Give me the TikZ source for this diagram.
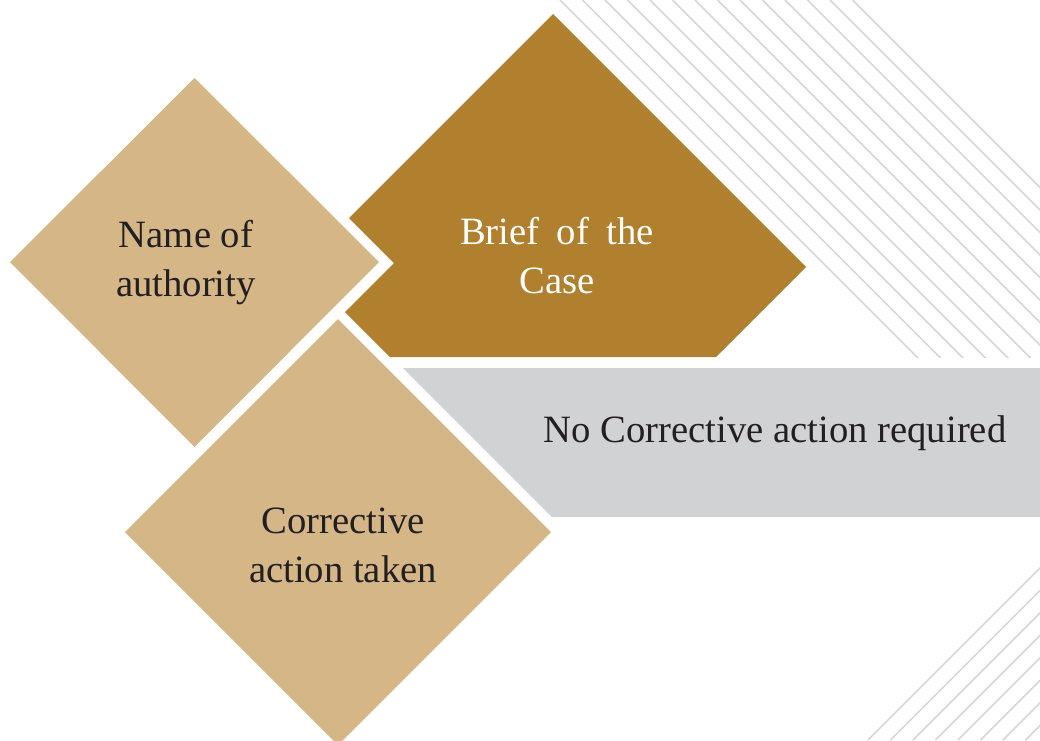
\documentclass[tikz,border=0pt]{standalone}
\usepackage{fontspec}
\setmainfont{Liberation Serif}
\definecolor{mytan}{HTML}{D4B687}
\definecolor{mybrown}{HTML}{B1802F}
\definecolor{mygray}{HTML}{D1D2D4}
\definecolor{hatchgray}{HTML}{D6D6D6}
\definecolor{ink}{HTML}{231F20}
\begin{document}
\begin{tikzpicture}[x=0.75pt,y=-0.75pt,
  lbl/.style={align=center, font=\fontsize{29}{36.75}\selectfont, text=ink, inner sep=0pt},
  hatchline/.style={draw=hatchgray, line width=1.1pt}]
\useasboundingbox (0,0) rectangle (1040,740);
\clip (0,0) rectangle (1040,740);
\fill[white] (0,0) rectangle (1040,740);
% hatching top right
\begin{scope}
  \clip (0,0) rectangle (1040,357);
  \foreach \k in {0,...,13} {
    \pgfmathsetmacro\c{560+22.5*\k}
    \draw[hatchline] (\c,0) -- ({\c+400},400);
  }
\end{scope}
% hatching bottom right
\foreach \k in {0,...,7} {
  \pgfmathsetmacro\c{1608+22.5*\k}
  \draw[hatchline] ({\c-740},740) -- ({\c-440},440);
}
% shapes
\fill[mytan] (194.5,78) -- (379,262) -- (194.5,447) -- (10,262) -- cycle;
\fill[mytan] (338,319) -- (551,532) -- (338,745) -- (125,532) -- cycle;
\fill[mybrown] (553,14) -- (806,267) -- (716,357) -- (390,357) -- (345,312) -- (394,263) -- (349,218) -- cycle;
\fill[mygray] (403,368) -- (1040,368) -- (1040,517) -- (552,517) -- cycle;
% texts
\node[lbl] (name) at (186,263) {Name of\\authority};
\node[lbl, text=white] (brief) at (557,256) {Brief\hspace{0.45em}of\hspace{0.45em}the\\Case};
\node[lbl] (corr) at (343,545) {Corrective\\action taken};
\node[lbl, anchor=base] (nocorr) at (775,442) {No Corrective action required};
\end{tikzpicture}
\end{document}
